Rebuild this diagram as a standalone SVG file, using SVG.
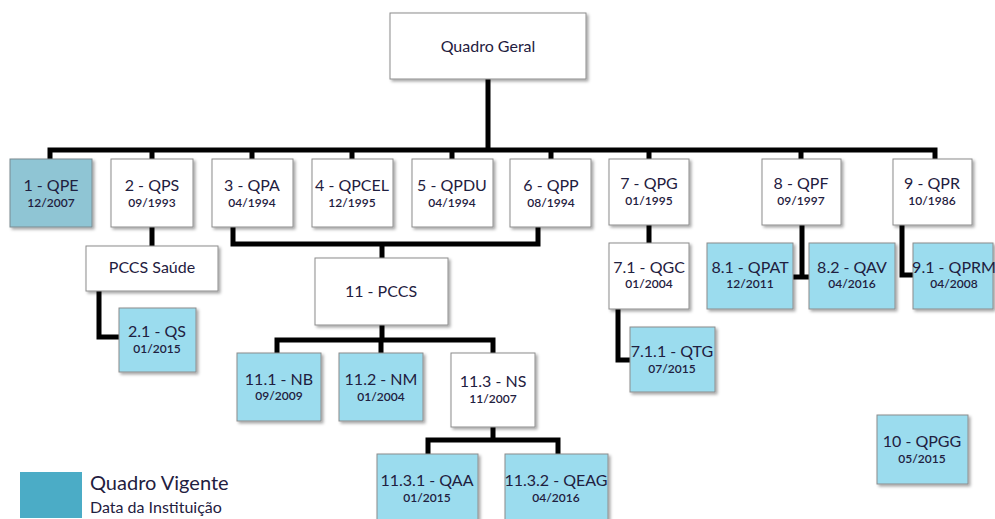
<svg xmlns="http://www.w3.org/2000/svg" width="995" height="519" viewBox="0 0 995 519">
<defs>
<filter id="sh" x="-10%" y="-10%" width="130%" height="130%">
<feDropShadow dx="2" dy="2" stdDeviation="1.5" flood-color="#000" flood-opacity="0.35"/>
</filter>
</defs>
<style>
.b{fill:#fff;stroke:#8c8c8c;stroke-width:1;filter:url(#sh)}
.c{fill:#9bdcee;stroke:#8c8c8c;stroke-width:1;filter:url(#sh)}
.d{fill:#8fc5d4;stroke:#7a8a90;stroke-width:1;filter:url(#sh)}
.t{font-family:Lato,"Liberation Sans",sans-serif;font-size:16px;fill:#1f2040;text-anchor:middle}
.s{font-family:Lato,"Liberation Sans",sans-serif;font-size:12px;font-weight:600;fill:#1f2040;text-anchor:middle}
.l{fill:none;stroke:#000;stroke-width:5;stroke-linejoin:miter;stroke-linecap:butt}
</style>
<rect width="995" height="519" fill="#fff"/>
<g id="connectors">
<path class="l" d="M488,79V150M50,159V150H935V159M152,150V159M252,150V159M352,150V159M452,150V159M551,150V159M649,150V159M801,150V159"/>
<path class="l" d="M152,227V246M99,291V337H120"/>
<path class="l" d="M233,227V244H538V227M382,244V258"/>
<path class="l" d="M382,325V340M277,353V340H493V353M381,340V353"/>
<path class="l" d="M493,427V440M428,454V440H558V454"/>
<path class="l" d="M649,225V243M618,309V360H630"/>
<path class="l" d="M802,225V277M793,277H809"/>
<path class="l" d="M902,225V275H913"/>
</g>
<g id="n-geral"><rect class="b" x="390" y="13" width="196" height="66"/><text class="t" x="488" y="52" font-size="18.5">Quadro Geral</text></g>
<g id="n1"><rect class="d" x="10" y="159" width="82" height="68"/><text class="t" x="51" y="191">1 - QPE</text><text class="s" x="51" y="207">12/2007</text></g>
<g id="n2"><rect class="b" x="111" y="159" width="82" height="68"/><text class="t" x="152" y="191">2 - QPS</text><text class="s" x="152" y="207">09/1993</text></g>
<g id="n3"><rect class="b" x="212" y="159" width="81" height="68"/><text class="t" x="252" y="191">3 - QPA</text><text class="s" x="252" y="207">04/1994</text></g>
<g id="n4"><rect class="b" x="312" y="159" width="81" height="68"/><text class="t" x="352" y="191">4 - QPCEL</text><text class="s" x="352" y="207">12/1995</text></g>
<g id="n5"><rect class="b" x="412" y="159" width="81" height="68"/><text class="t" x="452" y="191">5 - QPDU</text><text class="s" x="452" y="207">04/1994</text></g>
<g id="n6"><rect class="b" x="510" y="159" width="81" height="68"/><text class="t" x="551" y="191">6 - QPP</text><text class="s" x="551" y="207">08/1994</text></g>
<g id="n7"><rect class="b" x="609" y="159" width="80" height="66"/><text class="t" x="649" y="189">7 - QPG</text><text class="s" x="649" y="205">01/1995</text></g>
<g id="n8"><rect class="b" x="762" y="159" width="79" height="66"/><text class="t" x="801" y="189">8 - QPF</text><text class="s" x="801" y="205">09/1997</text></g>
<g id="n9"><rect class="b" x="893" y="159" width="79" height="66"/><text class="t" x="932" y="189">9 - QPR</text><text class="s" x="932" y="205">10/1986</text></g>
<g id="n-pccs-saude"><rect class="b" x="86" y="246" width="132" height="45"/><text class="t" x="152" y="273">PCCS Saúde</text></g>
<g id="n2-1"><rect class="c" x="119" y="308" width="77" height="64"/><text class="t" x="157" y="337">2.1 - QS</text><text class="s" x="157" y="353">01/2015</text></g>
<g id="n11"><rect class="b" x="315" y="258" width="133" height="67"/><text class="t" x="381" y="297">11 - PCCS</text></g>
<g id="n11-1"><rect class="c" x="237" y="353" width="84" height="68"/><text class="t" x="279" y="385">11.1 - NB</text><text class="s" x="279" y="400">09/2009</text></g>
<g id="n11-2"><rect class="c" x="339" y="353" width="84" height="68"/><text class="t" x="381" y="385">11.2 - NM</text><text class="s" x="381" y="401">01/2004</text></g>
<g id="n11-3"><rect class="b" x="451" y="353" width="84" height="74"/><text class="t" x="493" y="387">11.3 - NS</text><text class="s" x="493" y="403">11/2007</text></g>
<g id="n11-3-1"><rect class="c" x="377" y="454" width="101" height="70"/><text class="t" x="427" y="486">11.3.1 - QAA</text><text class="s" x="427" y="502">01/2015</text></g>
<g id="n11-3-2"><rect class="c" x="505" y="454" width="103" height="70"/><text class="t" x="556" y="486">11.3.2 - QEAG</text><text class="s" x="556" y="502">04/2016</text></g>
<g id="n7-1"><rect class="b" x="609" y="243" width="80" height="66"/><text class="t" x="649" y="273">7.1 - QGC</text><text class="s" x="649" y="288">01/2004</text></g>
<g id="n7-1-1"><rect class="c" x="630" y="327" width="85" height="65"/><text class="t" x="672" y="357">7.1.1 - QTG</text><text class="s" x="672" y="373">07/2015</text></g>
<g id="n8-1"><rect class="c" x="707" y="243" width="86" height="66"/><text class="t" x="750" y="273">8.1 - QPAT</text><text class="s" x="750" y="288">12/2011</text></g>
<g id="n8-2"><rect class="c" x="809" y="243" width="86" height="66"/><text class="t" x="852" y="273">8.2 - QAV</text><text class="s" x="852" y="288">04/2016</text></g>
<g id="n9-1"><rect class="c" x="913" y="243" width="80" height="66"/><text class="t" x="954" y="273">9.1 - QPRM</text><text class="s" x="954" y="288">04/2008</text></g>
<g id="n10"><rect class="c" x="877" y="415" width="91" height="69"/><text class="t" x="922" y="447">10 - QPGG</text><text class="s" x="922" y="463">05/2015</text></g>
<g id="legend">
<rect x="20" y="472" width="62" height="46" fill="#4bacc6"/>
<text x="90" y="490" font-family="Lato,'Liberation Sans',sans-serif" font-size="20" fill="#1f2040">Quadro Vigente</text>
<text x="90" y="513" font-family="Lato,'Liberation Sans',sans-serif" font-size="16" fill="#1f2040">Data da Instituição</text>
</g>
</svg>
